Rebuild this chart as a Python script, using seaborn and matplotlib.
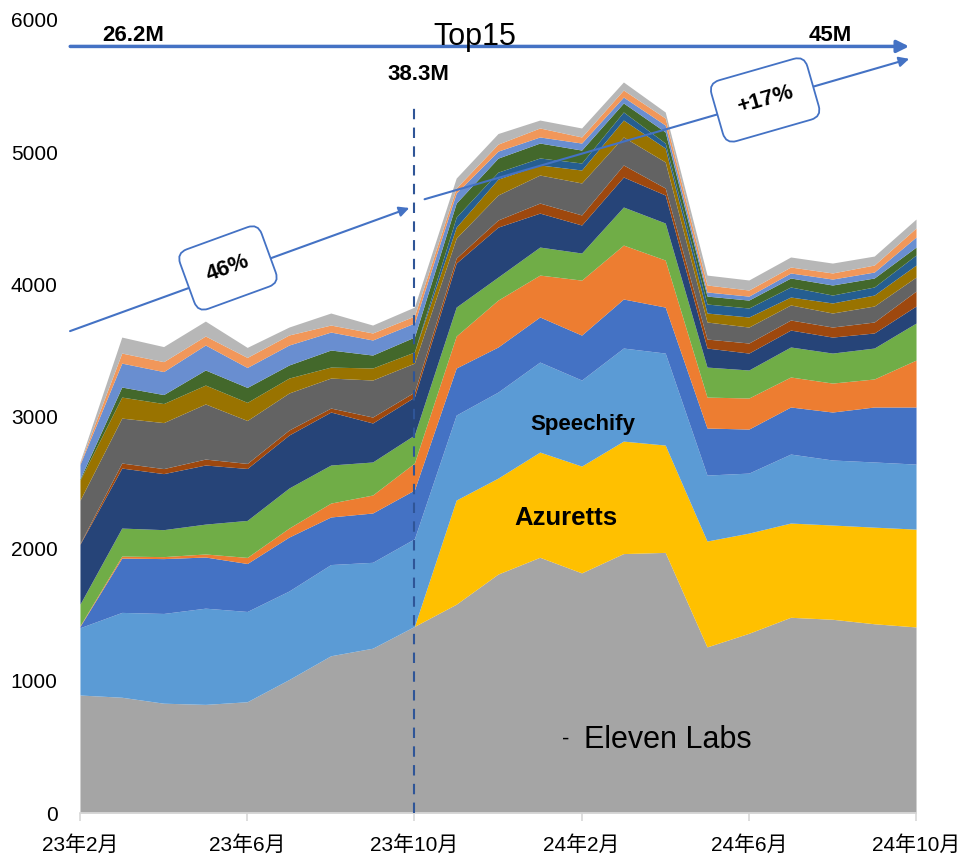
import numpy as np
import pandas as pd
import matplotlib
matplotlib.use("Agg")
import matplotlib.pyplot as plt
import seaborn as sns

sns.set_theme(style="white")
plt.rcParams['font.family'] = ['Liberation Sans', 'Noto Sans CJK JP', 'DejaVu Sans']
plt.rcParams['text.color'] = 'black'

# monthly points, 23年2月 .. 24年10月
months = ["23年2月", "23年3月", "23年4月", "23年5月", "23年6月", "23年7月", "23年8月",
          "23年9月", "23年10月", "23年11月", "23年12月", "24年1月", "24年2月", "24年3月",
          "24年4月", "24年5月", "24年6月", "24年7月", "24年8月", "24年9月", "24年10月"]

# stacked series, bottom to top
eleven_labs = [893, 876, 831, 822, 842, 1010, 1190, 1247, 1412, 1580, 1808, 1935, 1817, 1963, 1972, 1257, 1360, 1481, 1466, 1432, 1408]
azuretts = [0, 0, 0, 0, 0, 0, 0, 0, 0, 788, 726, 796, 808, 851, 812, 801, 758, 713, 713, 731, 740]
speechify = [509, 642, 679, 728, 683, 670, 690, 650, 663, 643, 651, 681, 651, 704, 696, 499, 454, 522, 492, 493, 492]
top4 = [10, 411, 415, 387, 363, 408, 360, 373, 369, 356, 341, 341, 340, 371, 348, 356, 333, 356, 363, 416, 432]
top5 = [5, 15, 15, 23, 46, 68, 105, 136, 204, 242, 355, 317, 416, 408, 356, 234, 235, 227, 219, 212, 355]
top6 = [163, 212, 204, 226, 280, 303, 288, 250, 212, 219, 174, 212, 205, 288, 280, 227, 212, 227, 227, 234, 280]
top7 = [454, 454, 424, 447, 393, 401, 401, 295, 287, 333, 378, 257, 212, 227, 212, 144, 128, 128, 121, 114, 129]
top8 = [5, 38, 38, 45, 38, 38, 30, 45, 38, 38, 54, 76, 76, 91, 53, 68, 76, 76, 76, 83, 113]
top9 = [328, 340, 348, 417, 325, 280, 227, 280, 219, 151, 189, 212, 242, 212, 197, 129, 121, 114, 106, 121, 106]
top10 = [151, 159, 144, 143, 137, 113, 83, 91, 84, 83, 120, 76, 98, 128, 105, 68, 76, 60, 76, 83, 91]
top11 = [0, 0, 0, 0, 0, 0, 0, 0, 0, 76, 53, 53, 53, 61, 38, 68, 68, 76, 60, 61, 76]
top12 = [10, 76, 68, 114, 113, 99, 129, 98, 113, 106, 106, 113, 98, 68, 84, 60, 60, 68, 76, 68, 60]
top13 = [110, 181, 174, 189, 151, 151, 136, 114, 106, 76, 53, 46, 53, 45, 52, 31, 30, 38, 45, 45, 76]
top14 = [10, 76, 75, 68, 76, 76, 53, 53, 53, 38, 53, 68, 46, 53, 53, 53, 46, 45, 46, 53, 68]
top15 = [10, 121, 114, 113, 76, 60, 91, 60, 68, 75, 80, 60, 68, 61, 46, 75, 76, 76, 75, 68, 68]

series_names = ["Eleven Labs", "Azuretts", "Speechify", "Top4", "Top5", "Top6", "Top7", "Top8",
                "Top9", "Top10", "Top11", "Top12", "Top13", "Top14", "Top15"]
series = [eleven_labs, azuretts, speechify, top4, top5, top6, top7, top8,
          top9, top10, top11, top12, top13, top14, top15]
colors = ["#A5A5A5", "#FFC000", "#5B9BD5", "#4472C4", "#ED7D31", "#70AD47", "#264478", "#9E480E",
          "#636363", "#997300", "#255E91", "#43682B", "#698ED0", "#F1975A", "#B7B7B7"]

tick_idx = [0, 4, 8, 12, 16, 20]

df = pd.DataFrame(dict(zip(series_names, series)), index=months)
x = np.arange(len(months))

fig = plt.figure(figsize=(9.6, 8.58), dpi=100)
ax = fig.add_axes([0.0833, 0.0524, 0.8709, 0.9243])
ax.stackplot(x, *[df[c].values for c in series_names], colors=colors, linewidth=0)

ax.set_xlim(0, 20)
ax.set_ylim(0, 6000)
ax.set_yticks(range(0, 6001, 1000))
ax.set_xticks(tick_idx)
ax.set_xticklabels([months[i] for i in tick_idx])
for s in ["left", "top", "right"]:
    ax.spines[s].set_visible(False)
ax.spines["bottom"].set_color("#D9D9D9")
ax.tick_params(axis="y", length=0, pad=16, labelsize=15, labelcolor="black")
ax.tick_params(axis="x", direction="out", length=6, color="#D9D9D9", pad=10,
               labelsize=15, labelcolor="black", bottom=True)

blue = "#4472C4"
# vertical dashed separator at 23年10月
ax.plot([8, 8], [0, 5390], color="#2F5597", ls=(0, (5, 4)), lw=1.5, zorder=5)

# Top15 headline arrow
ax.annotate("", xy=(19.9, 5800), xytext=(-0.3, 5800), annotation_clip=False,
            arrowprops=dict(arrowstyle="-|>", color=blue, lw=2.5, mutation_scale=18))
ax.text(9.45, 5870, "Top15", ha="center", va="center", fontsize=22)
ax.text(1.27, 5885, "26.2M", ha="center", va="center", fontsize=16, fontweight="bold")
ax.text(17.94, 5885, "45M", ha="center", va="center", fontsize=16, fontweight="bold")
ax.text(8.1, 5590, "38.3M", ha="center", va="center", fontsize=16, fontweight="bold")

# growth arrows
ax.annotate("", xy=(7.94, 4585), xytext=(-0.3, 3639), annotation_clip=False,
            arrowprops=dict(arrowstyle="-|>", color=blue, lw=1.5, mutation_scale=15))
ax.annotate("", xy=(19.9, 5712), xytext=(8.18, 4638), annotation_clip=False,
            arrowprops=dict(arrowstyle="-|>", color=blue, lw=1.5, mutation_scale=15))
box = dict(boxstyle="round,pad=0.95,rounding_size=0.5", fc="white", ec=blue, lw=1.3)
ax.text(3.54, 4124, "46%", ha="center", va="center", fontsize=16, fontweight="bold",
        rotation=20, bbox=box, zorder=6)
ax.text(16.39, 5395, "+17%", ha="center", va="center", fontsize=16, fontweight="bold",
        rotation=16, bbox=box, zorder=6)

# series labels
ax.text(12.03, 2943, "Speechify", ha="center", va="center", fontsize=16, fontweight="bold")
ax.text(11.63, 2232, "Azuretts", ha="center", va="center", fontsize=18.5, fontweight="bold")
ax.text(14.07, 552, "Eleven Labs", ha="center", va="center", fontsize=22)
ax.text(11.62, 560, "-", ha="center", va="center", fontsize=16)

fig.savefig("out.png", dpi=100)
